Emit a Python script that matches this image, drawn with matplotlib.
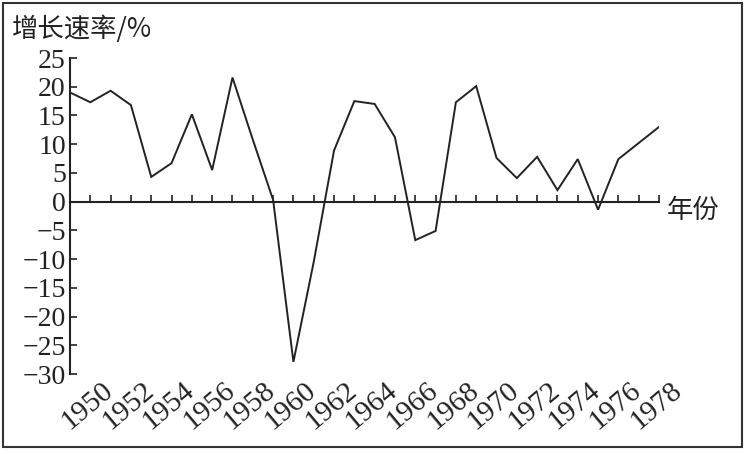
import matplotlib
matplotlib.use("Agg")
import matplotlib.pyplot as plt
import matplotlib.transforms as mtransforms
from matplotlib.patches import Rectangle

years = list(range(1949, 1979))
growth = [19.0, 17.3, 19.3, 16.8, 4.3, 6.7, 15.2, 5.5, 21.6, 10.8,
          0.3, -27.9, -10.5, 8.9, 17.5, 17.0, 11.2, -6.7, -5.1, 17.3,
          20.1, 7.6, 4.1, 7.8, 2.0, 7.4, -1.4, 7.4, 10.2, 13.0]
label_years = list(range(1950, 1979, 2))
y_ticks = [25, 20, 15, 10, 5, 0, -5, -10, -15, -20, -25, -30]
title = "增长速率/%"
xlabel = "年份"

serif = ["Liberation Serif", "DejaVu Serif"]
cjk = ["Noto Sans CJK SC", "DejaVu Sans"]
plt.rcParams["font.family"] = serif

W, H = 749, 454
fig = plt.figure(figsize=(W / 100, H / 100), dpi=100)
fig.patch.set_facecolor("white")

ax = fig.add_axes([70 / W, 80 / H, 589 / W, 316 / H])
ax.set_facecolor("none")
ax.plot(years, growth, color="#222222", lw=1.4, solid_joinstyle="miter")

ax.set_xlim(1949, 1978)
ax.set_ylim(-30, 25)

for s in ["top", "right"]:
    ax.spines[s].set_visible(False)
ax.spines["left"].set_linewidth(1.5)
ax.spines["left"].set_color("#222222")
ax.spines["bottom"].set_position(("data", 0))
ax.spines["bottom"].set_linewidth(1.5)
ax.spines["bottom"].set_color("#222222")

ax.set_xticks(years[1:])
ax.tick_params(axis="x", direction="in", length=5, width=1.2, colors="#222222",
               labelbottom=False)
ax.set_yticks(y_ticks)
ax.set_yticklabels([str(v).replace("-", "\u2212") for v in y_ticks])
ax.tick_params(axis="y", direction="in", length=5, width=1.2, colors="#222222",
               labelsize=20, pad=3, labelcolor="#222222")

# rotated year labels below the plot
base = mtransforms.blended_transform_factory(ax.transData, ax.transAxes)
trans = mtransforms.offset_copy(base, fig=fig, x=11, y=-3, units="dots")
for yr in label_years:
    ax.text(yr, 0, str(yr), transform=trans, rotation=40, ha="right", va="top",
            rotation_mode="anchor", fontsize=21, color="#222222", family=serif)

# axis name at the end of the x axis
trans2 = mtransforms.offset_copy(ax.transData, fig=fig, x=8, y=-9, units="dots")
ax.text(years[-1], 0, xlabel, transform=trans2, ha="left", va="center",
        fontsize=19, color="#222222", family=cjk)

fig.text(12 / W, 1 - 29 / H, title, ha="left", va="center", fontsize=19,
         color="#222222", family=cjk)

# frame around the whole picture
fig.patches.append(Rectangle((3 / W, 7 / H), 739 / W, 444 / H,
                             transform=fig.transFigure, fill=False,
                             edgecolor="#333333", lw=1.5))

fig.savefig("out.png", dpi=100)
